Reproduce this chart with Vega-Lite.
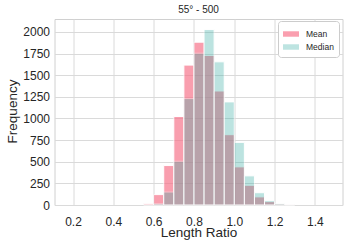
{
  "$schema": "https://vega.github.io/schema/vega-lite/v6.json",
  "autosize": {"type": "none"},
  "padding": {"left": 54.5, "top": 19, "right": 6.5, "bottom": 40},
  "width": 288,
  "height": 186,
  "background": "white",
  "config": {
    "font": "Liberation Sans",
    "view": {"stroke": "#d0d0d0", "strokeWidth": 1},
    "axis": {
      "grid": true,
      "gridColor": "#dadada",
      "gridWidth": 1,
      "domain": false,
      "ticks": false,
      "tickSize": 0,
      "labelColor": "#262626",
      "labelFontSize": 12,
      "titleColor": "#262626",
      "titleFontSize": 13.5,
      "titleFontWeight": "normal"
    },
    "legend": {
      "orient": "none",
      "legendX": 223.5,
      "legendY": 2,
      "padding": 5,
      "fillColor": "white",
      "strokeColor": "#cccccc",
      "cornerRadius": 3,
      "labelFontSize": 8.5,
      "labelColor": "#262626",
      "labelOffset": 7,
      "symbolType": "M-1,-0.34H1V0.34H-1Z",
      "symbolSize": 256,
      "symbolStrokeWidth": 0,
      "rowPadding": -2
    }
  },
  "title": {
    "text": "55° - 500",
    "fontSize": 10,
    "fontWeight": "normal",
    "color": "#262626",
    "anchor": "middle",
    "offset": 4
  },
  "data": {
    "values": [
      {"start": 0.55, "end": 0.60, "series": "Mean", "count": 15},
      {"start": 0.60, "end": 0.65, "series": "Mean", "count": 120},
      {"start": 0.65, "end": 0.70, "series": "Mean", "count": 456},
      {"start": 0.70, "end": 0.75, "series": "Mean", "count": 1023},
      {"start": 0.75, "end": 0.80, "series": "Mean", "count": 1617},
      {"start": 0.80, "end": 0.85, "series": "Mean", "count": 1882},
      {"start": 0.85, "end": 0.90, "series": "Mean", "count": 1729},
      {"start": 0.90, "end": 0.95, "series": "Mean", "count": 1318},
      {"start": 0.95, "end": 1.00, "series": "Mean", "count": 813},
      {"start": 1.00, "end": 1.05, "series": "Mean", "count": 441},
      {"start": 1.05, "end": 1.10, "series": "Mean", "count": 228},
      {"start": 1.10, "end": 1.15, "series": "Mean", "count": 94},
      {"start": 1.15, "end": 1.20, "series": "Mean", "count": 39},
      {"start": 1.20, "end": 1.25, "series": "Mean", "count": 12},
      {"start": 1.25, "end": 1.30, "series": "Mean", "count": 3},
      {"start": 0.55, "end": 0.60, "series": "Median", "count": 3},
      {"start": 0.60, "end": 0.65, "series": "Median", "count": 16},
      {"start": 0.65, "end": 0.70, "series": "Median", "count": 150},
      {"start": 0.70, "end": 0.75, "series": "Median", "count": 506},
      {"start": 0.75, "end": 0.80, "series": "Median", "count": 1230},
      {"start": 0.80, "end": 0.85, "series": "Median", "count": 1755},
      {"start": 0.85, "end": 0.90, "series": "Median", "count": 2028},
      {"start": 0.90, "end": 0.95, "series": "Median", "count": 1655},
      {"start": 0.95, "end": 1.00, "series": "Median", "count": 1192},
      {"start": 1.00, "end": 1.05, "series": "Median", "count": 724},
      {"start": 1.05, "end": 1.10, "series": "Median", "count": 337},
      {"start": 1.10, "end": 1.15, "series": "Median", "count": 142},
      {"start": 1.15, "end": 1.20, "series": "Median", "count": 50},
      {"start": 1.20, "end": 1.25, "series": "Median", "count": 18},
      {"start": 1.25, "end": 1.30, "series": "Median", "count": 4}
    ]
  },
  "mark": {"type": "bar", "orient": "vertical", "stroke": "white", "strokeWidth": 1},
  "encoding": {
    "x": {
      "field": "start",
      "type": "quantitative",
      "scale": {"domain": [0.133, 1.512], "nice": false, "zero": false},
      "axis": {
        "values": [0.2, 0.4, 0.6, 0.8, 1.0, 1.2, 1.4],
        "format": ".1f",
        "labelPadding": 11,
        "title": "Length Ratio",
        "titleY": 31.5,
        "titleBaseline": "alphabetic"
      }
    },
    "x2": {"field": "end"},
    "y": {
      "field": "count",
      "type": "quantitative",
      "stack": null,
      "scale": {"domain": [0, 2150], "nice": false},
      "axis": {
        "values": [0, 250, 500, 750, 1000, 1250, 1500, 1750, 2000],
        "format": "d",
        "labelPadding": 5,
        "title": "Frequency",
        "titleX": -38,
        "titleY": 92,
        "titleAngle": -90,
        "titleAlign": "center",
        "titleBaseline": "alphabetic"
      }
    },
    "y2": {"datum": 0},
    "color": {
      "field": "series",
      "type": "nominal",
      "title": null,
      "scale": {"domain": ["Mean", "Median"], "range": ["#f77189", "#36ada4"]}
    },
    "opacity": {
      "field": "series",
      "type": "nominal",
      "title": null,
      "scale": {"domain": ["Mean", "Median"], "range": [0.68, 0.33]}
    }
  }
}
